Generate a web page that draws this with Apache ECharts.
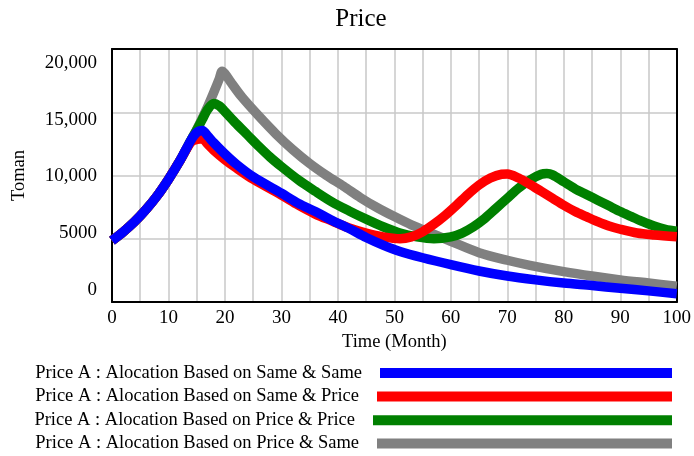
<!DOCTYPE html>
<html>
<head>
<meta charset="utf-8">
<script src="https://cdn.jsdelivr.net/npm/echarts@6/dist/echarts.min.js"></script>
<style>
  html, body { margin: 0; padding: 0; background: #ffffff; }
  #chart { width: 694px; height: 456px; }
</style>
</head>
<body>
<div id="chart"></div>
<script>
// Price A over 100 months under four allocation rules, [month, Toman]
const seriesNames = [
  'Price A : Alocation Based on Same & Same',
  'Price A : Alocation Based on Same & Price',
  'Price A : Alocation Based on Price & Price',
  'Price A : Alocation Based on Price & Same'
];

const sameSame = [[0,4850],[2,5550],[4,6350],[6,7300],[8,8400],[10,9700],[12,11150],[14,12800],[15,13400],[16,13550],[17,13100],[18,12600],[20,11700],[22,10900],[25,9900],[30,8600],[33,7800],[36,7150],[39,6450],[42,5800],[45,5100],[48,4500],[51,4000],[55,3500],[60,2950],[65,2450],[70,2050],[75,1750],[80,1500],[85,1300],[90,1080],[95,880],[100,650]];

const samePrice = [[0,4850],[2,5550],[4,6350],[6,7300],[8,8400],[10,9700],[12,11150],[14,12650],[15,12850],[16,12900],[17,12450],[18,12000],[20,11250],[22,10600],[25,9700],[30,8450],[33,7650],[36,6950],[39,6400],[42,5850],[45,5450],[48,5150],[51,5000],[53,5150],[55,5550],[57,6150],[59,6850],[61,7650],[63,8500],[65,9250],[67,9800],[69,10100],[70,10120],[72,9800],[74,9300],[76,8750],[78,8200],[80,7650],[82,7150],[84,6750],[86,6350],[88,6000],[90,5750],[93,5450],[96,5300],[100,5150]];

const pricePrice = [[0,4850],[2,5550],[4,6350],[6,7300],[8,8400],[10,9700],[12,11150],[14,12800],[15,13600],[16,14450],[17,15250],[18,15700],[19,15500],[20,15050],[22,14100],[24,13200],[26,12300],[28,11450],[30,10700],[33,9650],[36,8750],[39,7900],[42,7200],[45,6550],[48,5950],[51,5450],[54,5150],[57,5000],[60,5150],[62,5450],[64,5950],[66,6600],[68,7400],[70,8200],[72,9000],[74,9650],[76,10100],[77,10150],[78,10050],[80,9500],[82,8950],[84,8500],[86,8050],[88,7600],[90,7150],[92,6750],[94,6350],[96,6000],[98,5750],[100,5600]];

const priceSame = [[0,4850],[2,5550],[4,6350],[6,7300],[8,8400],[10,9700],[12,11150],[14,12800],[15,13650],[16,14550],[17,15500],[18,16550],[19,17650],[19.5,18250],[20,18050],[21,17400],[23,16200],[26,14700],[29,13300],[32,12050],[35,10950],[38,10000],[41,9150],[44,8250],[47,7450],[50,6750],[53,6100],[56,5550],[60,4800],[65,3900],[70,3300],[74,2900],[80,2400],[85,2050],[90,1750],[95,1500],[100,1250]];

const yTickValues = [0, 5000, 10000, 15000, 20000];
const lineColors = ['#0000ff', '#ff0000', '#008000', '#808080'];

const serif = "'Liberation Serif', 'Times New Roman', serif";
const chart = echarts.init(document.getElementById('chart'), null, { renderer: 'canvas' });

function fmtTick(v) {
  return v >= 10000 ? String(v).replace(/\B(?=(\d{3})+(?!\d))/g, ',') : String(v);
}

// one legend row per series: text left, long bar on the right
const legendTops = [363.5, 387, 410.8, 434];
const legendBarWidths = [292, 295, 299, 295];
const legends = seriesNames.map((name, i) => ({
  data: [name],
  orient: 'horizontal',
  align: 'right',
  right: 22,
  top: legendTops[i],
  padding: 0,
  icon: 'rect',
  itemWidth: legendBarWidths[i],
  itemHeight: 10,
  selectedMode: false,
  textStyle: { fontFamily: serif, fontSize: 18.5, color: '#000', padding: [0, 13, 0, 0] }
}));

const dataSets = [sameSame, samePrice, pricePrice, priceSame];
// draw grey first so blue ends on top
const drawOrder = [3, 2, 1, 0];
const series = drawOrder.map(i => ({
  name: seriesNames[i],
  type: 'line',
  xAxisIndex: 0,
  yAxisIndex: 0,
  data: dataSets[i],
  showSymbol: false,
  symbol: 'none',
  smooth: 0.3,
  z: 3,
  color: lineColors[i],
  lineStyle: { width: 9.5, color: lineColors[i], join: 'round', cap: 'butt' },
  emphasis: { disabled: true }
}));

const gridLine = { color: '#c8c8c8', width: 1.5 };
const frameLine = { show: true, onZero: false, lineStyle: { color: '#000', width: 2 } };

// bare axes used only as the black frame around the plot
function frameX(pos) {
  return {
    type: 'value', position: pos, min: 0, max: 100, z: 1,
    axisLine: frameLine, axisTick: { show: false }, axisLabel: { show: false }, splitLine: { show: false }
  };
}
function frameY(pos) {
  return {
    type: 'value', position: pos, min: 0, max: 20000, z: 1,
    axisLine: frameLine, axisTick: { show: false }, axisLabel: { show: false }, splitLine: { show: false }
  };
}

chart.setOption({
  animation: false,
  backgroundColor: '#ffffff',
  title: {
    text: 'Price',
    left: 361,
    top: 7,
    textAlign: 'center',
    padding: 0,
    textStyle: { fontFamily: serif, fontSize: 25, fontWeight: 'normal', color: '#000' }
  },
  legend: legends,
  grid: { left: 112, top: 49, right: 15, bottom: 154, show: false },
  xAxis: [
    {
      type: 'value',
      min: 0, max: 100, interval: 10,
      z: 0,
      name: 'Time (Month)',
      nameLocation: 'middle',
      nameGap: 31,
      nameTextStyle: { fontFamily: serif, fontSize: 18.5, color: '#000' },
      axisLine: { show: false },
      axisTick: { show: false },
      axisLabel: { margin: 7, fontFamily: serif, fontSize: 19, color: '#000' },
      splitLine: { show: true, lineStyle: gridLine },
      minorTick: { show: false, splitNumber: 2 },
      minorSplitLine: { show: true, lineStyle: gridLine }
    },
    frameX('top'),
    frameX('bottom')
  ],
  yAxis: [
    {
      type: 'value',
      min: 0, max: 20000, interval: 5000,
      z: 0,
      name: 'Toman',
      nameLocation: 'middle',
      nameGap: 83,
      nameTextStyle: { fontFamily: serif, fontSize: 18.5, color: '#000' },
      axisLine: { show: false },
      axisTick: { show: false },
      axisLabel: { show: false },
      splitLine: { show: true, lineStyle: gridLine }
    },
    {
      // label track: tick labels sit on a slightly wider scale than the grid
      type: 'value',
      position: 'left',
      offset: 0,
      min: -1056, max: 21206,
      z: 0,
      axisLine: { show: false },
      axisTick: { show: false },
      splitLine: { show: false },
      axisLabel: {
        customValues: yTickValues,
        margin: 15,
        fontFamily: serif, fontSize: 19, color: '#000',
        formatter: fmtTick
      }
    },
    frameY('left'),
    frameY('right')
  ],
  series: series
});
</script>
</body>
</html>
